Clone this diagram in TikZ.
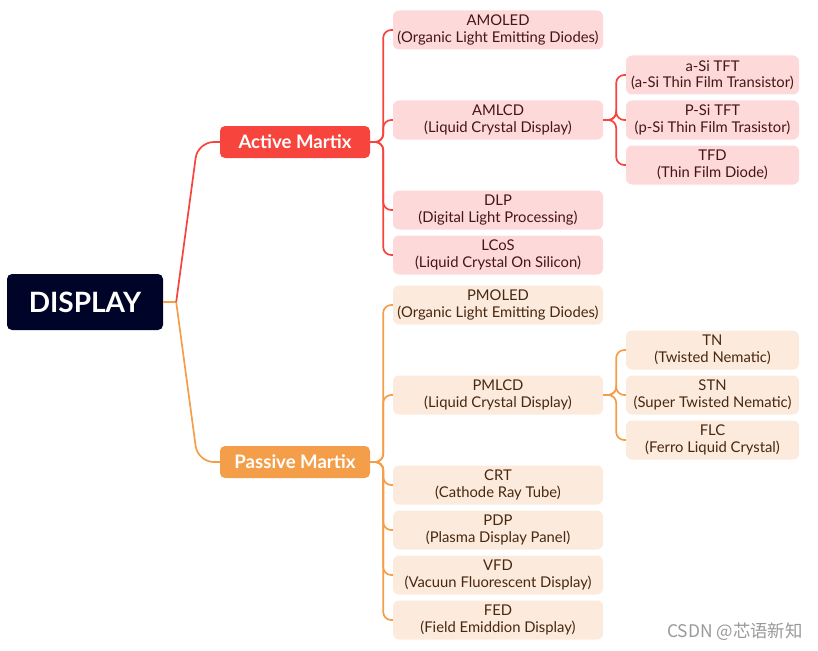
\documentclass[tikz,border=0pt]{standalone}
\usepackage{fontspec}
\setmainfont{Lato}
\newfontfamily\cjk{Noto Sans CJK SC}
\usetikzlibrary{positioning,calc}

\definecolor{navy}{RGB}{0,4,40}
\definecolor{actred}{RGB}{247,68,60}
\definecolor{pasorange}{RGB}{245,158,74}
\definecolor{actpink}{RGB}{253,217,217}
\definecolor{paspeach}{RGB}{252,234,220}
\definecolor{acttext}{RGB}{70,22,22}
\definecolor{pastext}{RGB}{72,40,16}

\begin{document}
\begin{tikzpicture}[x=1pt, y=-1pt,
    root/.style={fill=navy, rounded corners=5pt, minimum width=156pt, minimum height=56pt, text=white, font=\fontsize{28}{32}\selectfont\bfseries},
    mainbox/.style={rounded corners=5pt, minimum width=150pt, minimum height=32pt, text=white, font=\fontsize{18.6}{22}\selectfont\bfseries},
    subbox/.style={rounded corners=6pt, minimum width=210pt, minimum height=39pt, inner sep=0pt, align=center, font=\fontsize{14.8}{16.5}\selectfont},
    leafbox/.style={subbox, minimum width=173pt},
    act/.style={fill=actpink, text=acttext},
    pas/.style={fill=paspeach, text=pastext},
    redline/.style={draw=actred, line width=1.7pt, rounded corners=8pt},
    orline/.style={draw=pasorange, line width=1.7pt, rounded corners=8pt}
  ]
    \useasboundingbox (0,0) rectangle (818,650);

    \node[root] (disp) at (85,302) {DISPLAY};
    \node[mainbox, fill=actred] (active) at (295,142) {Active Martix};
    \node[mainbox, fill=pasorange] (passive) at (295,462) {Passive Martix};

    % active branch
    \node[subbox, act] (amoled) at (498,30) {AMOLED\\(Organic Light Emitting Diodes)};
    \node[subbox, act] (amlcd) at (498,120) {AMLCD\\(Liquid Crystal Display)};
    \node[subbox, act] (dlp) at (498,210) {DLP\\(Digital Light Processing)};
    \node[subbox, act] (lcos) at (498,255) {LCoS\\(Liquid Crystal On Silicon)};
    \node[leafbox, act] (asi) at (712.5,75) {a-Si TFT\\(a-Si Thin Film Transistor)};
    \node[leafbox, act] (psi) at (712.5,120) {P-Si TFT\\(p-Si Thin Film Trasistor)};
    \node[leafbox, act] (tfd) at (712.5,165) {TFD\\(Thin Film Diode)};

    % passive branch
    \node[subbox, pas] (pmoled) at (498,305) {PMOLED\\(Organic Light Emitting Diodes)};
    \node[subbox, pas] (pmlcd) at (498,395) {PMLCD\\(Liquid Crystal Display)};
    \node[subbox, pas] (crt) at (498,485) {CRT\\(Cathode Ray Tube)};
    \node[subbox, pas] (pdp) at (498,530) {PDP\\(Plasma Display Panel)};
    \node[subbox, pas] (vfd) at (498,575) {VFD\\(Vacuun Fluorescent Display)};
    \node[subbox, pas] (fed) at (498,620) {FED\\(Field Emiddion Display)};
    \node[leafbox, pas] (tn) at (712.5,350) {TN\\(Twisted Nematic)};
    \node[leafbox, pas] (stn) at (712.5,395) {STN\\(Super Twisted Nematic)};
    \node[leafbox, pas] (flc) at (712.5,440) {FLC\\(Ferro Liquid Crystal)};

    % connectors
    \coordinate (fork) at ($(disp.east)+(13,0)$);
    \draw[orline] (disp.east) -- (fork);
    \draw[redline, rounded corners=16pt] (fork) -- ($(active.west)+(-22,0)$) -- (active.west);
    \draw[orline, rounded corners=16pt] (fork) -- ($(passive.west)+(-22,0)$) -- (passive.west);

    \foreach \n in {amoled,amlcd,dlp,lcos}
      \draw[redline] (active.east) -- ++(13,0) |- (\n.west);
    \foreach \n in {asi,psi,tfd}
      \draw[redline] (amlcd.east) -- ++(13,0) |- (\n.west);
    \foreach \n in {pmoled,pmlcd,crt,pdp,vfd,fed}
      \draw[orline] (passive.east) -- ++(13,0) |- (\n.west);
    \foreach \n in {tn,stn,flc}
      \draw[orline] (pmlcd.east) -- ++(13,0) |- (\n.west);

    \node[font=\cjk\fontsize{17.4}{20}\selectfont, text=gray!80] (mark) at (735,632) {CSDN @芯语新知};
  \end{tikzpicture}
\end{document}
